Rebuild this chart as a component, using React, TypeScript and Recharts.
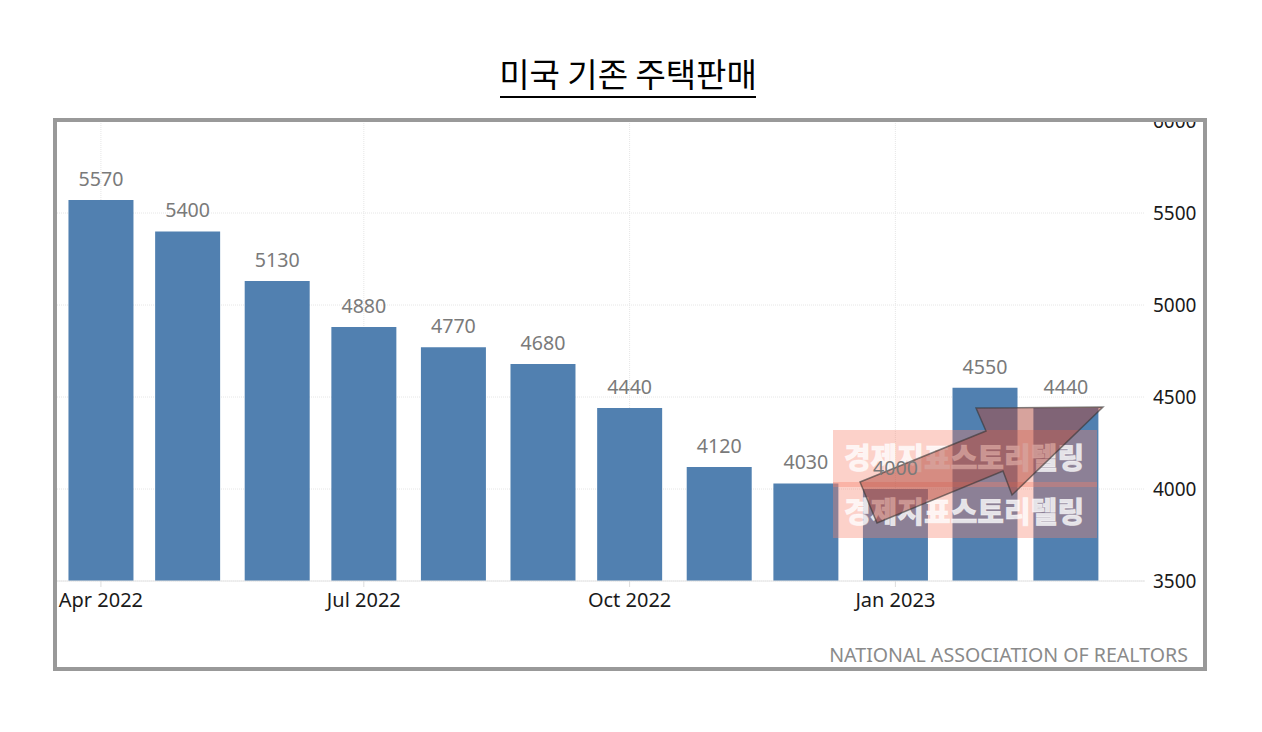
import React from "react";
import { BarChart, Bar, XAxis, YAxis, CartesianGrid, LabelList } from "recharts";

const dayOffsets = [0, 30, 61, 91, 122, 153, 183, 214, 244, 275, 306, 334];
const sales = [5570, 5400, 5130, 4880, 4770, 4680, 4440, 4120, 4030, 4000, 4550, 4440];
const xTicks = [0, 91, 183, 275];
const xTickLabels = ["Apr 2022", "Jul 2022", "Oct 2022", "Jan 2023"];
const yTicks = [3500, 4000, 4500, 5000, 5500, 6000];
const title = "미국 기존 주택판매";
const source = "NATIONAL ASSOCIATION OF REALTORS";
const watermark = "경제지표스토리텔링";

const data = dayOffsets.map((day, i) => ({ day, sales: sales[i] }));
const xDomain: [number, number] = [-15.2, 361.4];
const yDomain: [number, number] = [3500, 6000];
const font = '"Noto Sans", sans-serif';
const cjk = '"Noto Sans CJK KR", sans-serif';

export default function App() {
  return (
    <div style={{ position: "absolute", left: 0, top: 0, width: 1262, height: 732, background: "#fff" }}>
      <BarChart width={1262} height={732} data={data} margin={{ top: 121, right: 57, bottom: 121, left: 57 }}>
        <CartesianGrid stroke="#e6e6e6" strokeWidth={1} strokeDasharray="1 1" syncWithTicks />
        <XAxis
          dataKey="day"
          type="number"
          scale="linear"
          domain={xDomain}
          allowDataOverflow
          ticks={xTicks}
          interval={0}
          height={30}
          tickFormatter={(v: number) => xTickLabels[xTicks.indexOf(v)]}
          axisLine={{ stroke: "#e4e4e4" }}
          tickLine={{ stroke: "#ddd" }}
          tickSize={6}
          tick={{ fill: "#1a1a1a", fontSize: 20, fontFamily: font, dy: 4 }}
        />
        <YAxis
          orientation="right"
          type="number"
          domain={yDomain}
          ticks={yTicks}
          interval={0}
          width={60}
          axisLine={false}
          tickLine={false}
          tickMargin={2}
          tick={{ fill: "#1a1a1a", fontSize: 19, fontFamily: font }}
        />
        <Bar dataKey="sales" fill="#5180b0" barSize={65} isAnimationActive={false} />
      </BarChart>
      <svg width={1262} height={732} style={{ position: "absolute", left: 0, top: 0, pointerEvents: "none" }}>
        <rect x={53} y={90} width={1154} height={28} fill="#fff" />
        <text x={628} y={87} textAnchor="middle" fontFamily={cjk} fontSize={33} fill="#000">{title}</text>
        <rect x={500} y={96} width={256} height={2} fill="#000" />
        <rect x={55} y={120} width={1150} height={549} fill="none" stroke="#999" strokeWidth={4} />
        <text x={1188} y={662} textAnchor="end" fontFamily={font} fontSize={19.6} fill="#8a8a8a">{source}</text>
        <rect x={833} y={430} width={264} height={57} fill="#f8806a" fillOpacity={0.36} />
        <rect x={833} y={482} width={264} height={56} fill="#f8806a" fillOpacity={0.36} />
        <text x={964} y={469} textAnchor="middle" fontFamily={cjk} fontWeight={900} fontSize={29} stroke="#fff" strokeOpacity={0.5} strokeWidth={0.8} fill="#fff" fillOpacity={0.8}>{watermark}</text>
        <text x={964} y={523} textAnchor="middle" fontFamily={cjk} fontWeight={900} fontSize={29} stroke="#fff" strokeOpacity={0.5} strokeWidth={0.8} fill="#fff" fillOpacity={0.8}>{watermark}</text>
        <polygon
          points="877,523 860,482 986,431 976,408 1103,407 1012,495 1003,471"
          fill="#b0483c"
          fillOpacity={0.5}
          stroke="#333"
          strokeOpacity={0.6}
          strokeWidth={1.5}
        />
      </svg>
      <div style={{ position: "absolute", left: 0, top: 0, pointerEvents: "none" }}>
        <BarChart width={1262} height={732} data={data} margin={{ top: 121, right: 117, bottom: 151, left: 57 }}>
          <XAxis dataKey="day" type="number" scale="linear" domain={xDomain} allowDataOverflow hide />
          <YAxis type="number" domain={yDomain} hide />
          <Bar dataKey="sales" fill="none" barSize={65} isAnimationActive={false}>
            <LabelList dataKey="sales" position="top" offset={14} fill="#7a7a7a" fontSize={19.6} fontFamily={font} />
          </Bar>
        </BarChart>
      </div>
    </div>
  );
}
